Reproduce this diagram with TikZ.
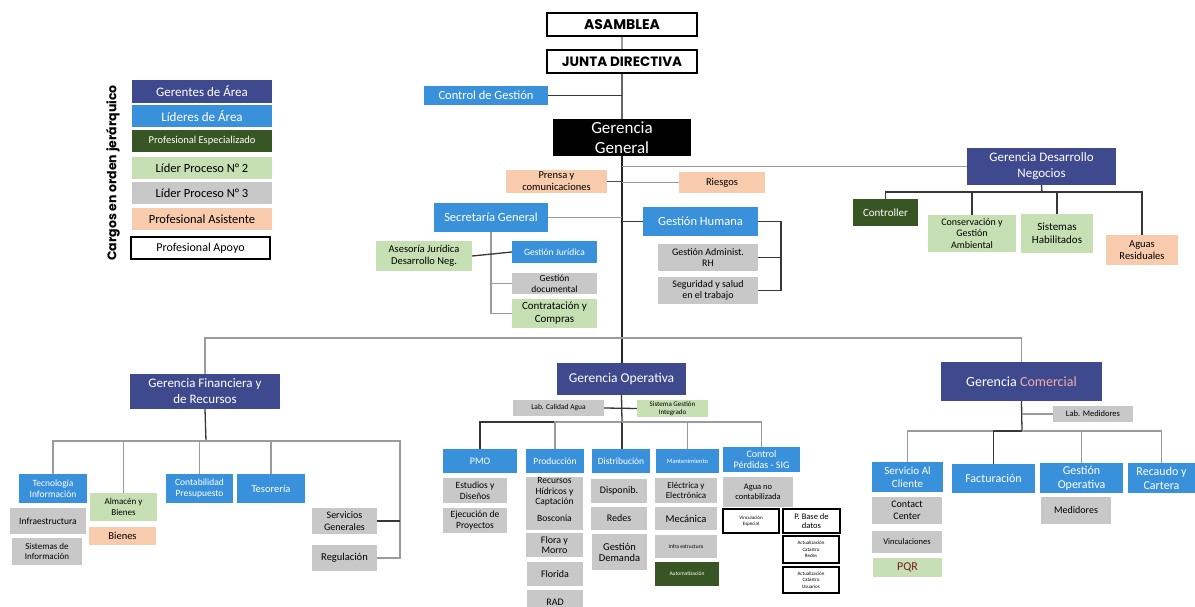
\documentclass[tikz,border=0pt]{standalone}
\usepackage{fontspec}
\setmainfont{Carlito}
\newfontfamily\geo{Poppins}
\definecolor{dkblue}{RGB}{63,74,142}
\definecolor{ltblue}{RGB}{58,145,219}
\definecolor{dkgreen}{RGB}{56,86,35}
\definecolor{ltgreen}{RGB}{198,224,180}
\definecolor{grayc}{RGB}{200,200,200}
\definecolor{peach}{RGB}{248,203,173}
\definecolor{pinkc}{RGB}{244,172,170}
\definecolor{pqrred}{RGB}{120,30,30}
\definecolor{lndark}{RGB}{55,55,55}
\definecolor{lngray}{RGB}{155,155,155}
\newcommand\fz[2]{\fontsize{#1}{#2}\selectfont}
% [opt]{style}{name}{x1}{y1}{x2}{y2}{text}
\newcommand\bx[8][]{\node[#2,minimum width={#6-#4},minimum height={#7-#5},#1] (#3) at ({(#4+#6)/2},{(#5+#7)/2}) {#8};}
\tikzset{
  base/.style={inner sep=0.5pt, align=center, text=black, font=\fz{10}{11}},
  dkb/.style={base, fill=dkblue, text=white},
  ltb/.style={base, fill=ltblue, text=white},
  dkg/.style={base, fill=dkgreen, text=white},
  lgr/.style={base, fill=ltgreen},
  gry/.style={base, fill=grayc},
  pch/.style={base, fill=peach},
  wbx/.style={base, fill=white, draw=black, line width=1.4pt},
  blk/.style={base, fill=black, text=white},
  dk/.style={draw=lndark, line width=1.3pt},
  gy/.style={draw=lngray, line width=1.3pt},
  main/.style={draw=black!85, line width=1.8pt}
}
\begin{document}
\begin{tikzpicture}[x=1pt,y=-1pt]
\useasboundingbox (0,0) rectangle (1195,607);
\fill[white] (0,0) rectangle (1195,607);

% ---------- top ----------
\bx[font=\geo\bfseries\fz{14}{16}, line width=1.3pt]{wbx}{asm}{547}{13}{697}{36}{ASAMBLEA}
\bx[font=\geo\bfseries\fz{13.5}{16}, line width=1.3pt]{wbx}{jd}{547}{50}{697}{73}{JUNTA DIRECTIVA}
\bx[font=\fz{12.5}{14}]{ltb}{cg}{424}{86}{548}{105}{Control de Gestión}
\bx[font=\fz{17}{20}]{blk}{gg}{553}{119}{691}{156}{Gerencia\\General}
\bx[font=\fz{10.5}{12}]{pch}{prensa}{506}{170}{607}{193}{Prensa y\\comunicaciones}
\bx[font=\fz{10.5}{12}]{pch}{riesgos}{679}{172}{765}{193}{Riesgos}

% ---------- desarrollo negocios ----------
\bx[font=\fz{13}{16}]{dkb}{gdn}{967}{148}{1116}{185}{Gerencia Desarrollo\\Negocios}
\bx[font=\fz{11}{13}]{dkg}{ctrl}{853}{199}{918}{226}{Controller}
\bx[font=\fz{10}{11.5}]{lgr}{cons}{928}{215}{1016}{252}{Conservación y\\Gestión\\Ambiental}
\bx[font=\fz{11}{13}]{lgr}{sist}{1021}{214}{1093}{253}{Sistemas\\Habilitados}
\bx[font=\fz{10.5}{12}]{pch}{aguas}{1106}{235}{1178}{265}{Aguas\\Residuales}

% ---------- secretaria / humana ----------
\bx[font=\fz{12.5}{14}]{ltb}{sg}{434}{203}{548}{232}{Secretaría General}
\bx[font=\fz{12.5}{14}]{ltb}{gh}{643}{207}{758}{236}{Gestión Humana}
\bx[font=\fz{10}{11.5}]{gry}{gar}{658}{244}{758}{271}{Gestión Administ.\\RH}
\bx[font=\fz{10}{11.5}]{gry}{seg}{658}{277}{758}{304}{Seguridad y salud\\en el trabajo}
\bx[font=\fz{10.5}{12}]{lgr}{aj}{376}{241}{472}{271}{Asesoría Jurídica\\Desarrollo Neg.}
\bx[font=\fz{9.5}{10}]{ltb}{gj}{512}{241}{597}{263}{Gestión Jurídica}
\bx[font=\fz{9.5}{11}]{gry}{gd}{512}{273}{597}{294}{Gestión\\documental}
\bx[font=\fz{11}{13}]{lgr}{cc}{512}{299}{597}{328}{Contratación y\\Compras}

% ---------- legend ----------
\bx[font=\fz{13}{15}]{dkb}{la}{132}{80}{272}{103}{Gerentes de Área}
\bx[font=\fz{13}{15}]{ltb}{lb}{132}{105}{272}{127}{Líderes de Área}
\bx[font=\fz{10.5}{12}]{dkg}{lc}{132}{130}{272}{152}{Profesional Especializado}
\bx[font=\fz{12.5}{14}]{lgr}{ld}{132}{157}{272}{179}{Líder Proceso N° 2}
\bx[font=\fz{12.5}{14}]{gry}{le}{132}{182}{272}{204}{Líder Proceso N° 3}
\bx[font=\fz{12.5}{14}]{pch}{lf}{132}{208}{272}{230}{Profesional Asistente}
\bx[font=\fz{12}{14}, line width=1.8pt]{wbx}{lg}{131}{237}{270}{259}{Profesional Apoyo}
\node[base, rotate=90, font=\geo\bfseries\fz{12.5}{14}, text=black] (ltitle) at (113,173) {Cargos en orden jerárquico};

% ---------- financiera ----------
\bx[font=\fz{13}{16}]{dkb}{gf}{130}{374}{280}{409}{Gerencia Financiera y\\de Recursos}
\bx[font=\fz{9.5}{11}]{ltb}{tec}{19}{474}{87}{503}{Tecnología\\Información}
\bx[font=\fz{9}{10.5}]{lgr}{alm}{90}{493}{157}{521}{Almacén y\\Bienes}
\bx[font=\fz{9.5}{11}]{ltb}{cont}{166}{474}{233}{503}{Contabilidad\\Presupuesto}
\bx[font=\fz{10.5}{12}]{ltb}{tes}{237}{474}{305}{503}{Tesorería}
\bx[font=\fz{9.5}{11}]{gry}{inf}{10}{508}{86}{534}{Infraestructura}
\bx[font=\fz{9}{10.5}]{gry}{sdi}{12}{538}{82}{565}{Sistemas de\\Información}
\bx[font=\fz{10.5}{12}]{pch}{bie}{89}{527}{156}{545}{Bienes}
\bx[font=\fz{10}{11.5}]{gry}{sgen}{312}{508}{377}{534}{Servicios\\Generales}
\bx[font=\fz{10.5}{12}]{gry}{reg}{312}{545}{377}{571}{Regulación}

% ---------- operativa ----------
\bx[font=\fz{13.5}{16}]{dkb}{go}{557}{363}{686}{395}{Gerencia Operativa}
\bx[font=\fz{7.5}{9}]{gry}{lca}{513}{400}{604}{416}{Lab. Calidad Agua}
\bx[font=\fz{7}{8}]{lgr}{sgi}{637}{400}{708}{417}{Sistema Gestión\\Integrado}
\bx[font=\fz{10}{12}]{ltb}{pmo}{443}{449}{517}{473}{PMO}
\bx[font=\fz{9.5}{11}]{ltb}{prod}{526}{449}{584}{473}{Producción}
\bx[font=\fz{9.5}{11}]{ltb}{dist}{592}{449}{650}{473}{Distribución}
\bx[font=\fz{6.5}{7}]{ltb}{mant}{656}{449}{719}{473}{Mantenimiento}
\bx[font=\fz{10}{10.5}]{ltb}{cps}{723}{447}{800}{472}{Control\\Pérdidas - SIG}
\bx[font=\fz{9.5}{10.5}]{gry}{est}{443}{478}{507}{503}{Estudios y\\Diseños}
\bx[font=\fz{9.5}{10.5}]{gry}{eje}{443}{508}{507}{533}{Ejecución de\\Proyectos}
\bx[font=\fz{9.5}{10.5}]{gry}{bos}{526}{507}{583}{530}{Bosconia}
\bx[font=\fz{9.5}{10.5}]{gry}{rhc}{526}{479}{583}{505}{Recursos\\Hídricos y\\Captación}
\bx[font=\fz{10}{10.5}]{gry}{flo}{526}{533}{583}{557}{Flora y\\Morro}
\bx[font=\fz{10}{11}]{gry}{fla}{527}{562}{583}{586}{Florida}
\bx[font=\fz{10}{11}]{gry}{rad}{527}{590}{583}{614}{RAD}
\bx[font=\fz{10}{11}]{gry}{disp}{591}{479}{647}{503}{Disponib.}
\bx[font=\fz{10}{11}]{gry}{red}{591}{507}{647}{530}{Redes}
\bx[font=\fz{10.5}{11}]{gry}{gdem}{592}{534}{647}{570}{Gestión\\Demanda}
\bx[font=\fz{9}{10}]{gry}{ele}{655}{478}{717}{503}{Eléctrica y\\Electrónica}
\bx[font=\fz{10.5}{12}]{gry}{mec}{655}{507}{717}{530}{Mecánica}
\bx[font=\fz{5.5}{6.5}]{gry}{ine}{655}{535}{717}{558}{Infra estructura}
\bx[font=\fz{5.5}{6.5}]{dkg}{aut}{655}{562}{719}{586}{Automatización}
\bx[font=\fz{8.5}{9.5}]{gry}{anc}{723}{477}{793}{507}{Agua no\\contabilizada}
\bx[font=\fz{5}{6}, line width=1.2pt]{wbx}{vin}{723}{509}{779}{533}{Vinculación\\Especial}
\bx[font=\fz{8.5}{9.5}, line width=1.2pt]{wbx}{pbd}{783}{509}{840}{533}{P. Base de\\datos}
\bx[font=\fz{5}{6.5}, line width=1.2pt]{wbx}{acr}{783}{536}{839}{563}{Actualización\\Catastro\\Redes}
\bx[font=\fz{5}{6.5}, line width=1.2pt]{wbx}{acu}{783}{567}{839}{593}{Actualización\\Catastro\\Usuarios}

% ---------- comercial ----------
\bx[font=\fz{14}{16}]{dkb}{gc}{941}{362}{1102}{401}{Gerencia \textcolor{pinkc}{Comercial}}
\bx[font=\fz{8.5}{10}]{gry}{lm}{1053}{406}{1133}{422}{Lab. Medidores}
\bx[font=\fz{11}{12.5}]{ltb}{sac}{872}{462}{943}{492}{Servicio Al\\Cliente}
\bx[font=\fz{12}{14}]{ltb}{fac}{952}{464}{1035}{493}{Facturación}
\bx[font=\fz{12}{14}]{ltb}{gop}{1040}{463}{1123}{493}{Gestión\\Operativa}
\bx[font=\fz{12}{14}]{ltb}{rec}{1128}{463}{1195}{493}{Recaudo y\\Cartera}
\bx[font=\fz{10}{11.5}]{gry}{ccen}{872}{497}{942}{524}{Contact\\Center}
\bx[font=\fz{8.5}{10}]{gry}{vinc}{872}{531}{942}{553}{Vinculaciones}
\bx[font=\fz{12}{14}, text=pqrred]{lgr}{pqr}{873}{558}{942}{577}{PQR}
\bx[font=\fz{10}{11.5}]{gry}{med}{1041}{497}{1111}{524}{Medidores}

% ================= connectors =================
% top spine
\draw[gy] (asm.south) -- (jd.north);
\draw[dk, draw=black!60] (jd.south) -- (gg.north);
\draw[dk] (cg.east) -- (jd.south |- cg.east);
\draw[main] (gg.south) -- (gg.south |- go.north);
\draw[gy] (gg.south |- gdn.west) -- (gdn.west);
\draw[dk, draw=black!70] (prensa.east) -- (gg.south |- prensa.east);
\draw[gy] (riesgos.west) -- (gg.south |- riesgos.west);
\draw[gy] (sg.east) -- (gg.south |- sg.east);
\draw[dk] (gh.west) -- (gg.south |- gh.west);

% gestion humana bracket
\coordinate (ghb) at (781,222);
\draw[dk] (gh.east) -- (gh.east -| ghb) -- (ghb |- seg.east) -- (seg.east);
\draw[dk] (gar.east) -- (gar.east -| ghb);

% secretaria general subtree
\draw[gy] (sg.south) -- (sg.south |- cc.west) -- (cc.west);
\draw[gy] (sg.south |- gd.west) -- (gd.west);
\draw[dk] (aj.east) -- (gj.west);

% desarrollo negocios fan
\coordinate (gdnb) at (1042,192);
\draw[dk] (gdn.south) -- (gdnb);
\draw[dk] (ctrl.north) |- (gdnb) -| (aguas.north);
\draw[dk] (gdnb) -| (cons.north);
\draw[dk] (gdnb) -| (sist.north);

% main bus
\coordinate (bus) at (622,338);
\draw[gy] (gf.north) |- (bus) -| (gc.north);

% financiera fan
\coordinate (gfb) at (206,441);
\coordinate (gfr) at (400,441);
\draw[dk] (gf.south) -- (gfb);
\draw[gy] (tec.north) |- (gfb) -- (gfr) |- (reg.east);
\draw[dk] (gfb) -- (tes.north |- gfb);
\draw[gy] (gfb) -| (alm.north);
\draw[gy] (gfb) -| (cont.north);
\draw[gy] (gfb) -| (tes.north);
\draw[dk] (gfr |- sgen.east) -- (sgen.east);

% operativa fan
\coordinate (gob) at (622,422);
\draw[dk] (go.south) -- (gob);
\draw[dk] (lca.east) -- (sgi.west);
\draw[dk] (pmo.north) |- (gob);
\draw[gy] (gob) -| (cps.north);
\draw[gy] (gob) -| (prod.north);
\draw[dk] (gob) -- (gob |- dist.north);
\draw[gy] (gob) -| (mant.north);

% comercial fan
\coordinate (gcb) at (1022,431);
\draw[dk] (gc.south) -- (gcb);
\draw[gy] (gcb |- lm.west) -- (lm.west);
\draw[gy] (sac.north) |- (gcb) -| (rec.north);
\draw[dk] (gcb) -| (fac.north);
\draw[gy] (gcb) -| (gop.north);
\end{tikzpicture}
\end{document}
